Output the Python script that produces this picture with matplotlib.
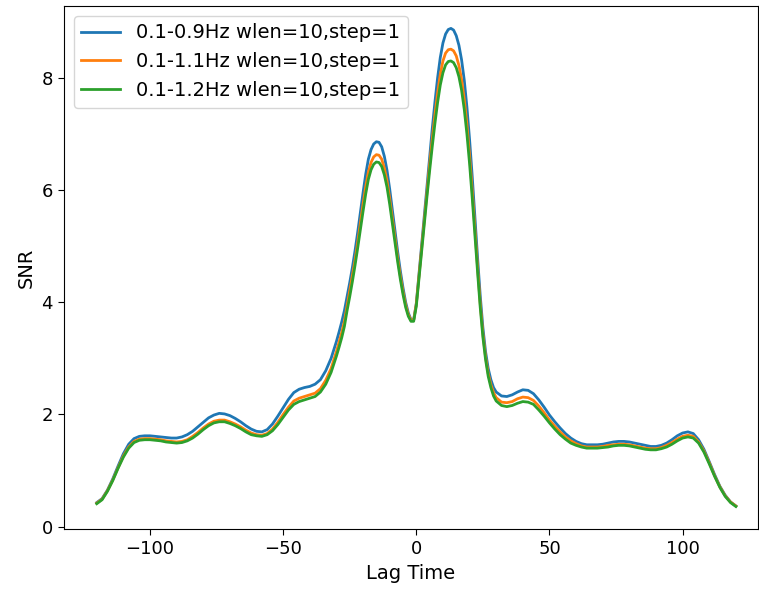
import matplotlib
matplotlib.use("Agg")
import matplotlib.pyplot as plt

# lag samples: every 2 s on the flanks, every 1 s around the two peaks
lag = list(range(-120, -29, 2)) + list(range(-29, 31)) + list(range(32, 121, 2))

snr_09 = [0.43, 0.50, 0.65, 0.85, 1.08, 1.30, 1.47, 1.57, 1.61, 1.62, 1.62, 1.61, 1.60, 1.59, 1.58, 1.58,
          1.60, 1.64, 1.70, 1.78, 1.86, 1.94, 1.99, 2.02, 2.01, 1.98, 1.93, 1.87, 1.80, 1.74, 1.70, 1.69,
          1.73, 1.83, 1.97, 2.12, 2.27, 2.39, 2.45, 2.48, 2.50, 2.54, 2.62, 2.78, 3.00, 3.30,
          3.47, 3.65, 3.85, 4.10, 4.35, 4.62, 4.92, 5.25, 5.60, 5.95, 6.28, 6.55, 6.72, 6.82, 6.86, 6.85,
          6.77, 6.60, 6.35, 6.02, 5.65, 5.27, 4.90, 4.56, 4.26, 4.00, 3.81, 3.69, 3.68, 3.98, 4.50, 5.02,
          5.55, 6.08, 6.60, 7.10, 7.57, 8.00, 8.36, 8.62, 8.78, 8.86, 8.88, 8.85, 8.75, 8.58, 8.32, 7.96,
          7.48, 6.90, 6.24, 5.52, 4.80, 4.12, 3.55, 3.12, 2.82, 2.62, 2.48, 2.40,
          2.33, 2.32, 2.35, 2.40, 2.44, 2.43, 2.37, 2.26, 2.13, 1.99, 1.87, 1.76, 1.66, 1.58, 1.52, 1.48,
          1.46, 1.46, 1.46, 1.47, 1.49, 1.51, 1.52, 1.52, 1.51, 1.49, 1.47, 1.45, 1.43, 1.43, 1.45, 1.49,
          1.55, 1.62, 1.67, 1.69, 1.66, 1.55, 1.38, 1.16, 0.93, 0.72, 0.56, 0.44, 0.37]

snr_11 = [0.42, 0.49, 0.64, 0.83, 1.05, 1.26, 1.42, 1.52, 1.56, 1.57, 1.57, 1.56, 1.55, 1.53, 1.52, 1.51,
          1.52, 1.55, 1.61, 1.68, 1.76, 1.83, 1.88, 1.90, 1.90, 1.87, 1.83, 1.78, 1.72, 1.67, 1.64, 1.63,
          1.66, 1.74, 1.86, 2.00, 2.13, 2.24, 2.29, 2.32, 2.35, 2.38, 2.46, 2.61, 2.82, 3.12,
          3.29, 3.46, 3.66, 3.93, 4.19, 4.46, 4.75, 5.07, 5.41, 5.75, 6.06, 6.32, 6.49, 6.59, 6.63, 6.62,
          6.55, 6.39, 6.16, 5.85, 5.50, 5.14, 4.79, 4.47, 4.19, 3.95, 3.78, 3.68, 3.68, 3.97, 4.47, 4.97,
          5.47, 5.97, 6.45, 6.91, 7.34, 7.73, 8.06, 8.30, 8.44, 8.50, 8.51, 8.48, 8.39, 8.22, 7.97, 7.62,
          7.17, 6.62, 5.99, 5.31, 4.63, 3.98, 3.44, 3.03, 2.73, 2.53, 2.39, 2.30,
          2.22, 2.21, 2.23, 2.28, 2.31, 2.30, 2.25, 2.15, 2.03, 1.90, 1.79, 1.69, 1.60, 1.53, 1.48, 1.44,
          1.42, 1.42, 1.42, 1.43, 1.45, 1.46, 1.47, 1.47, 1.46, 1.44, 1.42, 1.40, 1.39, 1.39, 1.41, 1.45,
          1.50, 1.56, 1.61, 1.63, 1.61, 1.51, 1.35, 1.14, 0.91, 0.71, 0.55, 0.44, 0.37]

snr_12 = [0.41, 0.48, 0.63, 0.82, 1.04, 1.24, 1.40, 1.50, 1.54, 1.55, 1.55, 1.54, 1.53, 1.51, 1.50, 1.49,
          1.50, 1.53, 1.58, 1.65, 1.73, 1.80, 1.85, 1.87, 1.87, 1.84, 1.80, 1.75, 1.69, 1.64, 1.62, 1.61,
          1.64, 1.71, 1.82, 1.95, 2.08, 2.18, 2.23, 2.26, 2.29, 2.32, 2.40, 2.54, 2.75, 3.04,
          3.20, 3.37, 3.57, 3.85, 4.10, 4.37, 4.66, 4.97, 5.30, 5.62, 5.93, 6.19, 6.36, 6.46, 6.50, 6.49,
          6.42, 6.27, 6.05, 5.75, 5.41, 5.06, 4.72, 4.41, 4.14, 3.91, 3.75, 3.66, 3.66, 3.93, 4.42, 4.91,
          5.40, 5.88, 6.34, 6.78, 7.19, 7.56, 7.87, 8.09, 8.23, 8.29, 8.30, 8.27, 8.18, 8.02, 7.78, 7.44,
          7.00, 6.47, 5.86, 5.20, 4.54, 3.91, 3.38, 2.98, 2.68, 2.48, 2.33, 2.24,
          2.16, 2.14, 2.16, 2.20, 2.23, 2.22, 2.18, 2.08, 1.97, 1.85, 1.74, 1.64, 1.56, 1.49, 1.45, 1.42,
          1.40, 1.40, 1.40, 1.41, 1.42, 1.44, 1.45, 1.45, 1.44, 1.42, 1.40, 1.38, 1.37, 1.37, 1.39, 1.42,
          1.47, 1.53, 1.58, 1.60, 1.58, 1.49, 1.33, 1.12, 0.90, 0.70, 0.54, 0.43, 0.36]

labels = ["0.1-0.9Hz wlen=10,step=1", "0.1-1.1Hz wlen=10,step=1", "0.1-1.2Hz wlen=10,step=1"]

fig = plt.figure(figsize=(7.59, 5.95), dpi=100)
ax = fig.add_axes([0.0843, 0.111, 0.914, 0.879])

ax.plot(lag, snr_09, label=labels[0], lw=2)
ax.plot(lag, snr_11, label=labels[1], lw=2)
ax.plot(lag, snr_12, label=labels[2], lw=2)

ax.set_xlim(-132.3, 128.2)
ax.set_ylim(-0.04, 9.28)
ax.set_xticks([-100, -50, 0, 50, 100])
ax.set_yticks([0, 2, 4, 6, 8])
ax.tick_params(labelsize=13, length=4.5)
ax.set_xlabel("Lag Time", fontsize=14)
ax.set_ylabel("SNR", fontsize=14)
ax.legend(loc="upper left", fontsize=14)

fig.savefig("out.png", dpi=100)
